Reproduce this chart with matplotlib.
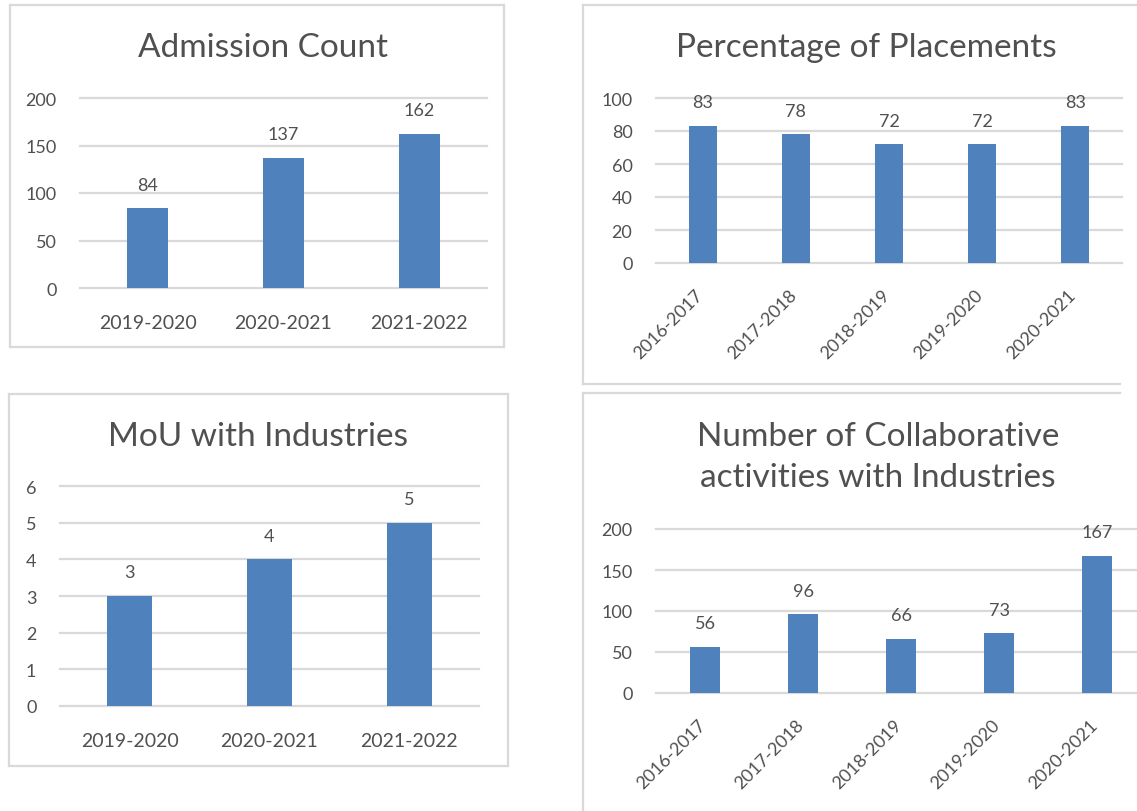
import matplotlib
matplotlib.use('Agg')
import matplotlib.pyplot as plt
import matplotlib.transforms as mtransforms
from matplotlib.lines import Line2D

plt.rcParams['font.family'] = ['Lato', 'DejaVu Sans']

#数据
adm_years = ['2019-2020', '2020-2021', '2021-2022']
adm_count = [84, 137, 162]

place_years = ['2016-2017', '2017-2018', '2018-2019', '2019-2020', '2020-2021']
place_pct = [83, 78, 72, 72, 83]

mou_years = ['2019-2020', '2020-2021', '2021-2022']
mou_count = [3, 4, 5]

collab_years = ['2016-2017', '2017-2018', '2018-2019', '2019-2020', '2020-2021']
collab_count = [56, 96, 66, 73, 167]

W, H = 1137, 812
BAR = '#4F81BD'
GRID = '#D9D9D9'
TXT = '#505050'

fig = plt.figure(figsize=(W / 100, H / 100), dpi=100)
fig.patch.set_facecolor('white')


def px_axes(left, top, right, bottom):
    return fig.add_axes([left / W, 1 - bottom / H, (right - left) / W, (bottom - top) / H])


def line(x0, y0, x1, y1):
    fig.add_artist(Line2D([x0 / W, x1 / W], [1 - y0 / H, 1 - y1 / H],
                          transform=fig.transFigure, color=GRID, lw=1.6))


def bar_chart(ax, cats, vals, ymax, step, rotate=False, bw=0.3):
    x = range(len(cats))
    ax.bar(x, vals, width=bw, color=BAR, zorder=3)
    ax.set_xlim(-0.5, len(cats) - 0.5)
    ax.set_ylim(0, ymax)
    ticks = [i * step for i in range(int(round(ymax / step)) + 1)]
    ax.set_yticks(ticks)
    ax.set_yticklabels([str(t) for t in ticks])
    for t in ticks:
        ax.axhline(t, color=GRID, lw=1.6, zorder=1, clip_on=False)
    for s in ax.spines.values():
        s.set_visible(False)
    ax.tick_params(axis='both', length=0, labelsize=13, labelcolor=TXT)
    ax.tick_params(axis='y', pad=17)
    ax.set_xticks(list(x))
    if rotate:
        labs = ax.set_xticklabels(cats, rotation=45, ha='right', va='center',
                                  rotation_mode='anchor')
        ax.tick_params(axis='x', pad=21)
        off = mtransforms.ScaledTranslation(-2 / 100, 0, fig.dpi_scale_trans)
        for lb in labs:
            lb.set_transform(lb.get_transform() + off)
    else:
        ax.set_xticklabels(cats, fontsize=14)
        ax.tick_params(axis='x', pad=19)
    for i, v in zip(x, vals):
        ax.annotate(str(v), (i, v), xytext=(0, 17), textcoords='offset points',
                    ha='center', va='center', fontsize=13, color=TXT)
    ax.set_facecolor('none')


# 面板边框
line(10, 6, 504, 6); line(10, 6, 10, 348); line(10, 348, 504, 348); line(504, 6, 504, 348)
line(583, 6, 1137, 6); line(583, 6, 583, 385); line(583, 385, 1120, 385)
line(9, 395, 508, 395); line(9, 395, 9, 767); line(9, 767, 508, 767); line(508, 395, 508, 767)
line(583, 394, 1120, 394); line(583, 394, 583, 812)

TS = 24
ax1 = px_axes(80, 99, 487, 289)
bar_chart(ax1, adm_years, adm_count, 200, 50)
fig.text(263 / W, 1 - 48 / H, 'Admission Count', ha='center', va='center', fontsize=TS, color=TXT)

ax2 = px_axes(656, 99, 1122, 264)
bar_chart(ax2, place_years, place_pct, 100, 20, rotate=True)
fig.text(866 / W, 1 - 48 / H, 'Percentage of Placements', ha='center', va='center', fontsize=TS, color=TXT)

ax3 = px_axes(60, 487, 479, 707)
bar_chart(ax3, mou_years, mou_count, 6, 1, bw=0.32)
fig.text(258 / W, 1 - 437 / H, 'MoU with Industries', ha='center', va='center', fontsize=TS, color=TXT)

ax4 = px_axes(656, 530, 1146, 694)
bar_chart(ax4, collab_years, collab_count, 200, 50, rotate=True, bw=0.31)
fig.text(878 / W, 1 - 437 / H, 'Number of Collaborative', ha='center', va='center', fontsize=TS, color=TXT)
fig.text(878 / W, 1 - 478 / H, 'activities with Industries', ha='center', va='center', fontsize=TS, color=TXT)

plt.savefig('out.png', dpi=100, facecolor='white')
